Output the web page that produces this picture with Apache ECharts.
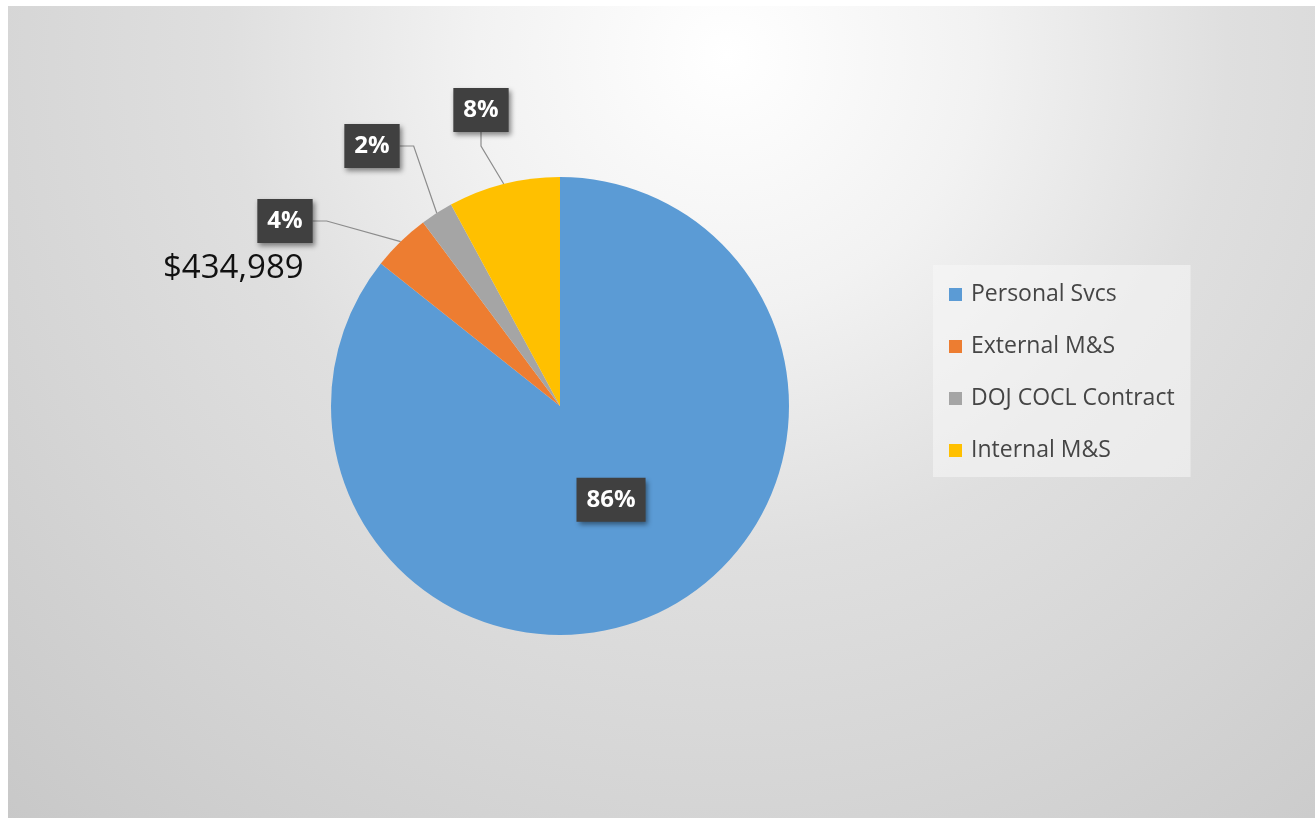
<!DOCTYPE html>
<html>
<head>
<meta charset="utf-8">
<script src="https://cdn.jsdelivr.net/npm/echarts@6/dist/echarts.min.js"></script>
<style>
  html, body { margin: 0; padding: 0; background: #fff; }
  #chart {
    position: absolute; left: 8px; top: 6px; width: 1307px; height: 812px;
    background: radial-gradient(circle at 55% 6%, #ffffff 0px, #f2f2f2 250px, #dfdfdf 500px, #d5d5d5 750px, #c6c6c6 1100px);
  }
</style>
</head>
<body>
<div id="chart"></div>
<script>
// Budget split (dollars), slices read clockwise from 12 o'clock
const categories = ['Personal Svcs', 'External M&S', 'DOJ COCL Contract', 'Internal M&S'];
const amounts = [9084000, 434989, 244000, 837000];
const sliceColors = ['#5B9BD5', '#ED7D31', '#A5A5A5', '#FFC000'];
const calloutIndex = 1; // slice whose dollar amount is written beside the chart

// where the outside percent boxes sit (centre points, chart pixels)
const labelSpots = { 1: [277, 215], 2: [364, 140], 3: [473, 104] };

const chart = echarts.init(document.getElementById('chart'), null, { renderer: 'canvas' });

const boxLabel = {
  color: '#fff',
  fontFamily: 'Open Sans',
  fontWeight: 'bold',
  fontSize: 24,
  lineHeight: 26,
  backgroundColor: '#404040',
  padding: [9, 10],
  shadowColor: 'rgba(0,0,0,0.45)',
  shadowBlur: 5,
  shadowOffsetX: 2,
  shadowOffsetY: 3,
  formatter: p => Math.round(p.percent) + '%'
};

chart.setOption({
  backgroundColor: 'transparent',
  animation: false,
  color: sliceColors,
  legend: {
    orient: 'vertical',
    left: 925,
    top: 259,
    icon: 'rect',
    itemWidth: 13,
    itemHeight: 13,
    itemGap: 25,
    padding: [16, 16, 13, 16],
    backgroundColor: 'rgba(248,248,248,0.55)',
    textStyle: {
      fontFamily: 'Open Sans',
      fontSize: 23,
      lineHeight: 27,
      color: '#454545',
      padding: [0, 0, 0, 4]
    },
    data: categories
  },
  graphic: [{
    type: 'text',
    left: 155,
    top: 246,
    style: {
      text: '$' + amounts[calloutIndex].toLocaleString('en-US'),
      fontFamily: 'Open Sans',
      fontSize: 33,
      fill: '#111'
    }
  }],
  series: [{
    type: 'pie',
    center: [552, 400],
    radius: 229,
    startAngle: 90,
    clockwise: true,
    label: boxLabel,
    labelLine: {
      show: true,
      length: 12,
      length2: 14,
      lineStyle: { color: '#8c8c8c', width: 1.2 }
    },
    labelLayout: p => {
      const spot = labelSpots[p.dataIndex];
      if (!spot) return { dy: -12 };
      return { x: spot[0], y: spot[1], align: 'center', verticalAlign: 'middle' };
    },
    emphasis: { disabled: true },
    data: categories.map((name, i) => {
      const item = { name: name, value: amounts[i] };
      if (i === 0) {
        item.label = { position: 'inside' };
        item.labelLine = { show: false };
      }
      return item;
    })
  }]
});
</script>
</body>
</html>
